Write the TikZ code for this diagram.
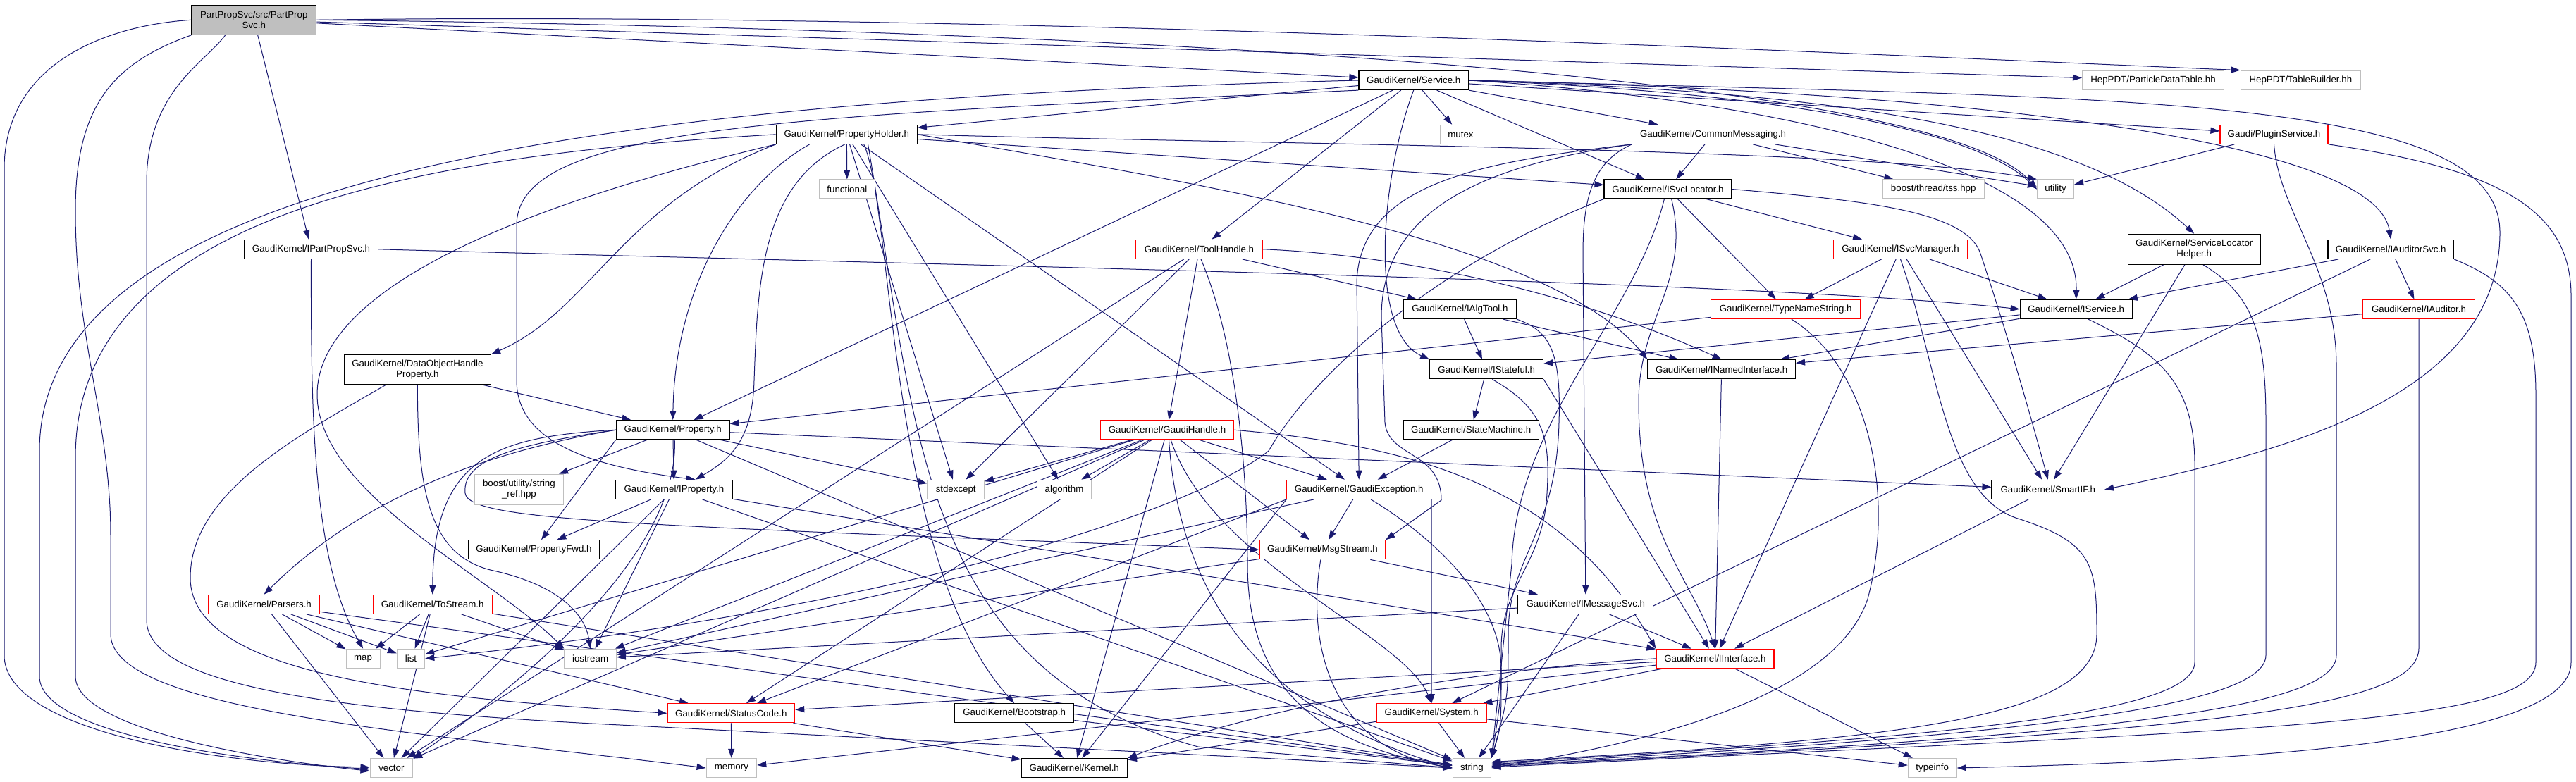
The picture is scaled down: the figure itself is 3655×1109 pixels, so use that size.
\documentclass[tikz,border=0pt]{standalone}
\usepackage{fontspec}
\newfontfamily\doxfont{Liberation Sans}
\usetikzlibrary{arrows.meta}
\definecolor{edgeblue}{HTML}{191970}
\definecolor{boxgray}{HTML}{BFBFBF}
\pgfdeclarelayer{paper}
\pgfdeclarelayer{edges}
\pgfsetlayers{paper,edges,main}

\tikzset{
  file/.style={draw=black, line width=1.2pt, fill=white, minimum height=27pt, inner sep=0pt, align=center, font={\doxfont\fontsize{13.3}{15}\selectfont}},
  sysfile/.style={file, draw=boxgray},
  redfile/.style={file, draw=red},
  rootfile/.style={file, fill=boxgray},
  dep/.style={draw=edgeblue, line width=1pt, -{Triangle[length=13pt,width=9pt]}},
}

\begin{document}
\begin{tikzpicture}[x=1pt,y=1pt]
			%%%%% START %%%%%
			\begin{pgfonlayer}{paper}
			\fill[white] (0,0) rectangle (3655,-1109);
			\end{pgfonlayer}
			\useasboundingbox (0,0) rectangle (3655,-1109);

			\node[rootfile, minimum width=177pt, minimum height=42pt] (root) at (360.3,-28.3) {PartPropSvc/src/PartProp\\Svc.h};
			\node[file, minimum width=189.5pt] (ipps) at (441.5,-353.8) {GaudiKernel/IPartPropSvc.h};
			\node[file, minimum width=155.5pt] (svc) at (2005.7,-114) {GaudiKernel/Service.h};
			\node[sysfile, minimum width=201pt] (pdt) at (3055,-113.7) {HepPDT/ParticleDataTable.hh};
			\node[sysfile, minimum width=170pt] (tb) at (3264.3,-113.7) {HepPDT/TableBuilder.hh};

			\node[file, minimum width=200pt] (ph) at (1201.3,-190.8) {GaudiKernel/PropertyHolder.h};
			\node[sysfile, minimum width=79pt] (functional) at (1201.9,-268.5) {functional};
			\node[sysfile, minimum width=58pt] (mutex) at (2072.5,-190.8) {mutex};
			\node[file, minimum width=229.4pt] (cm) at (2430.5,-190.8) {GaudiKernel/CommonMessaging.h};
			\node[redfile, minimum width=153pt] (plugin) at (3226.5,-190.8) {Gaudi/PluginService.h};

			\node[file, minimum width=181pt] (isl) at (2366.5,-268.5) {GaudiKernel/ISvcLocator.h};
			\node[sysfile, minimum width=144pt] (tss) at (2743.2,-268.5) {boost/thread/tss.hpp};
			\node[sysfile, minimum width=52pt] (utility) at (2916.5,-268.5) {utility};

			\node[redfile, minimum width=180pt] (th) at (1701.5,-353.8) {GaudiKernel/ToolHandle.h};
			\node[redfile, minimum width=190pt] (ism) at (2696.5,-353.8) {GaudiKernel/ISvcManager.h};
			\node[file, minimum width=188pt, minimum height=43pt] (slh) at (3113.2,-353.8) {GaudiKernel/ServiceLocator\\Helper.h};
			\node[file, minimum width=178.5pt] (iasvc) at (3392.2,-353.8) {GaudiKernel/IAuditorSvc.h};

			\node[file, minimum width=160pt] (iat) at (2071.4,-439) {GaudiKernel/IAlgTool.h};
			\node[redfile, minimum width=211.8pt] (tns) at (2533.7,-439) {GaudiKernel/TypeNameString.h};
			\node[file, minimum width=159pt] (isvc) at (2945.7,-438.8) {GaudiKernel/IService.h};
			\node[redfile, minimum width=158.3pt] (iaud) at (3432,-438.8) {GaudiKernel/IAuditor.h};

			\node[file, minimum width=208pt, minimum height=42pt] (dohp) at (592.4,-524.3) {GaudiKernel/DataObjectHandle\\Property.h};
			\node[file, minimum width=160.8pt] (ist) at (2109.2,-524.3) {GaudiKernel/IStateful.h};
			\node[file, minimum width=209.5pt] (ini) at (2442.7,-524.3) {GaudiKernel/INamedInterface.h};

			\node[file, minimum width=160.7pt] (prop) at (954.7,-610.2) {GaudiKernel/Property.h};
			\node[redfile, minimum width=188.3pt] (gh) at (1656,-610.2) {GaudiKernel/GaudiHandle.h};
			\node[file, minimum width=192pt] (sm) at (2087.2,-610.2) {GaudiKernel/StateMachine.h};

			\node[sysfile, minimum width=125.6pt, minimum height=42.7pt] (sref) at (736.4,-694.7) {boost/utility/string\\\_ref.hpp};
			\node[file, minimum width=166.5pt] (iprop) at (956.4,-694.8) {GaudiKernel/IProperty.h};
			\node[sysfile, minimum width=80.4pt] (stdexcept) at (1356.2,-694.8) {stdexcept};
			\node[sysfile, minimum width=77pt] (algorithm) at (1510,-694.8) {algorithm};
			\node[redfile, minimum width=204.8pt] (gex) at (1928.2,-694.8) {GaudiKernel/GaudiException.h};
			\node[file, minimum width=159.5pt] (sif) at (2905.8,-694.8) {GaudiKernel/SmartIF.h};

			\node[file, minimum width=186.6pt] (pfwd) at (757.5,-780.3) {GaudiKernel/PropertyFwd.h};
			\node[redfile, minimum width=178.3pt] (msg) at (1876.4,-780.3) {GaudiKernel/MsgStream.h};

			\node[redfile, minimum width=158pt] (parsers) at (374.6,-857.8) {GaudiKernel/Parsers.h};
			\node[redfile, minimum width=169pt] (tostream) at (613.7,-857.8) {GaudiKernel/ToStream.h};
			\node[file, minimum width=192pt] (imsg) at (2249.8,-857.8) {GaudiKernel/IMessageSvc.h};

			\node[sysfile, minimum width=48pt] (map) at (515.1,-934.8) {map};
			\node[sysfile, minimum width=39.3pt] (list) at (583,-934.8) {list};
			\node[sysfile, minimum width=73.4pt] (iostream) at (837.6,-934.8) {iostream};
			\node[redfile, minimum width=167pt] (iint) at (2433.4,-934.8) {GaudiKernel/IInterface.h};

			\node[redfile, minimum width=180.8pt] (sc) at (1037.3,-1012.3) {GaudiKernel/StatusCode.h};
			\node[file, minimum width=169pt] (boot) at (1439.2,-1012.3) {GaudiKernel/Bootstrap.h};
			\node[redfile, minimum width=156pt] (sys) at (2031.2,-1012.3) {GaudiKernel/System.h};

			\node[sysfile, minimum width=60.5pt] (vector) at (555.4,-1090) {vector};
			\node[sysfile, minimum width=71.6pt] (memory) at (1037.9,-1090) {memory};
			\node[file, minimum width=150.2pt] (kernel) at (1524.3,-1090) {GaudiKernel/Kernel.h};
			\node[sysfile, minimum width=54.6pt] (string) at (2088.4,-1090) {string};
			\node[sysfile, minimum width=68.8pt] (typeinfo) at (2741.7,-1090) {typeinfo};

			\begin{pgfonlayer}{edges}
			% short includes
			\foreach \src/\dst in {root/ipps, root/svc, root/pdt,
				svc/ph, svc/mutex, svc/cm, svc/isl, svc/plugin, svc/th, svc/prop,
				ph/functional, ph/isl, ph/stdexcept, ph/algorithm, ph/gex,
				cm/isl, cm/tss, cm/utility, isl/ism, isl/tns,
				ism/tns, ism/isvc, ism/sif, ism/iint, tns/prop,
				th/gh, th/iat, th/stdexcept, th/vector,
				gh/stdexcept, gh/algorithm, gh/gex, gh/kernel, gh/msg, gh/iostream, gh/vector, gh/list, gh/sc,
				iat/ist, iat/ini, ist/sm, sm/gex, ini/iint, isvc/ist, isvc/ini, iaud/ini,
				iasvc/isvc, iasvc/iaud, iasvc/sys, slh/isvc, slh/sif, plugin/utility,
				dohp/prop, prop/sref, prop/iprop, prop/stdexcept, prop/sif, prop/string,
				iprop/pfwd, iprop/iint, iprop/string, iprop/vector, iprop/iostream,
				parsers/map, parsers/list, parsers/vector, parsers/sc, parsers/string,
				tostream/map, tostream/list, tostream/vector, tostream/iostream, tostream/string,
				gex/msg, gex/iostream, msg/imsg, msg/iostream,
				imsg/iint, imsg/string, imsg/iostream,
				iint/sc, iint/memory, iint/sys, iint/typeinfo,
				sys/string, sys/typeinfo, sys/kernel, sc/memory, sc/kernel,
				boot/kernel, boot/string, sif/iint}
				\draw[dep] (\src) -- (\dst);

			% long way round on the left
			\draw[dep] (root.west) .. controls (150,-36) and (6,-90) .. (6,-240) -- (6,-930) .. controls (6,-1040) and (320,-1086) .. (vector.178);
			\draw[dep] (svc.west) .. controls (900,-140) and (56,-240) .. (56,-640) -- (56,-960) .. controls (56,-1040) and (330,-1080) .. (vector.183);
			\draw[dep] (ph.west) .. controls (600,-220) and (107,-300) .. (107,-650) -- (107,-960) .. controls (107,-1030) and (340,-1075) .. (vector.188);
			\draw[dep] (root.south west) .. controls (160,-90) and (107,-150) .. (107,-300) .. controls (107,-480) and (157,-600) .. (157,-760) -- (157,-900) .. controls (157,-1010) and (600,-1040) .. (memory.west);
			\draw[dep] (root.208) .. controls (290,-90) and (208,-130) .. (208,-260) -- (208,-880) .. controls (208,-975) and (480,-1010) .. (900,-1030) -- (string.west);

			% long way round on the right
			\draw[dep] (svc.east) .. controls (3000,-140) and (3547,-130) .. (3547,-330) .. controls (3547,-560) and (3250,-640) .. (sif.east);
			\draw[dep] (plugin.south east) .. controls (3550,-240) and (3648,-300) .. (3648,-420) -- (3648,-940) .. controls (3648,-1040) and (3300,-1078) .. (typeinfo.east);
			\draw[dep] (iasvc.south east) .. controls (3560,-400) and (3598,-440) .. (3598,-560) -- (3598,-940) .. controls (3598,-1030) and (3200,-1035) .. (string.2);
			\draw[dep] (iaud.south) -- (3432,-920) .. controls (3432,-1010) and (3100,-1040) .. (string.5);
			\draw[dep] (plugin.south) .. controls (3233,-300) and (3315,-380) .. (3315,-520) -- (3315,-930) .. controls (3315,-1005) and (3000,-1045) .. (string.8);
			\draw[dep] (slh.-60) .. controls (3200,-420) and (3215,-480) .. (3215,-600) -- (3215,-930) .. controls (3215,-1000) and (2900,-1045) .. (string.11);
			\draw[dep] (isvc.-40) .. controls (3060,-500) and (3114,-540) .. (3114,-660) -- (3114,-940) .. controls (3114,-1010) and (2800,-1045) .. (string.14);
			\draw[dep] (ism.south) .. controls (2750,-520) and (2760,-700) .. (2860,-735) .. controls (2970,-770) and (2975,-800) .. (2975,-900) .. controls (2975,-1020) and (2700,-1050) .. (string.17);

			% curved includes near the top
			\draw[dep] (root.east) .. controls (1500,-40) and (2750,-100) .. (utility.west);
			\draw[dep] (root.east) .. controls (1400,-15) and (2700,-80) .. (tb.north west);
			\draw[dep] (ipps.east) .. controls (1500,-380) and (2500,-400) .. (isvc.west);
			\draw[dep] (ipps.south) .. controls (441,-600) and (445,-800) .. (map.north);
			\draw[dep] (svc.east) .. controls (2500,-130) and (2800,-180) .. (utility.west);
			\draw[dep] (svc.east) .. controls (2800,-130) and (3370,-200) .. (iasvc.north);
			\draw[dep] (svc.east) .. controls (2600,-130) and (2950,-180) .. (slh.north);
			\draw[dep] (svc.east) .. controls (2500,-140) and (2950,-230) .. (isvc.north);
			\draw[dep] (svc.south) .. controls (1960,-250) and (1940,-470) .. (ist.north west);
			\draw[dep] (svc.south west) .. controls (1100,-165) and (733,-180) .. (733,-320) -- (733,-540) .. controls (733,-620) and (820,-660) .. (iprop.25);
			\draw[dep] (ph.south west) .. controls (880,-290) and (840,-440) .. (dohp.north east);
			\draw[dep] (ph.-165) .. controls (1050,-260) and (958,-400) .. (prop.north);
			\draw[dep] (ph.-100) .. controls (1080,-260) and (1075,-400) .. (1070,-540) .. controls (1068,-620) and (1040,-650) .. (iprop.25);
			\draw[dep] (ph.east) .. controls (1700,-260) and (2200,-340) .. (ini.north west);
			\draw[dep] (ph.east) .. controls (1800,-205) and (2650,-210) .. (utility.north west);
			\draw[dep] (ph.south west) .. controls (700,-300) and (450,-420) .. (450,-560) .. controls (450,-700) and (700,-820) .. (iostream.north west);
			\draw[dep] (ph.-25) .. controls (1300,-600) and (1300,-950) .. (1700,-1060) -- (string.west);
			\draw[dep] (ph.-30) .. controls (1268,-300) and (1260,-800) .. (boot.north);
			\draw[dep] (cm.south west) .. controls (2260,-230) and (2246,-280) .. (2246,-360) -- (imsg.north);
			\draw[dep] (cm.south west) .. controls (2100,-230) and (1930,-260) .. (1925,-400) -- (gex.north);
			\draw[dep] (cm.south west) .. controls (2100,-235) and (1960,-300) .. (1960,-450) -- (1965,-600) .. controls (1970,-650) and (2045,-640) .. (2045,-710) -- (msg.north east);
			\draw[dep] (isl.east) .. controls (2650,-285) and (2790,-300) .. (2810,-360) .. controls (2840,-450) and (2870,-550) .. (sif.north);
			\draw[dep] (isl.-70) .. controls (2400,-400) and (2325,-450) .. (2325,-570) .. controls (2325,-760) and (2400,-820) .. (iint.north);
			\draw[dep] (isl.-110) .. controls (2320,-450) and (2150,-600) .. (2145,-800) -- (string.north east);
			\draw[dep] (isl.south west) .. controls (2050,-370) and (1870,-520) .. (1800,-640) .. controls (1700,-720) and (1300,-860) .. (list.east);
			\draw[dep] (tns.-60) .. controls (2650,-520) and (2690,-700) .. (2650,-850) .. controls (2600,-1000) and (2300,-1060) .. (string.east);
			\draw[dep] (th.east) .. controls (1950,-360) and (2200,-400) .. (ini.north);
			\draw[dep] (th.-80) .. controls (1760,-500) and (1770,-700) .. (1770,-800) .. controls (1770,-1000) and (1900,-1060) .. (string.west);

			% curved includes in the middle
			\draw[dep] (iat.south east) .. controls (2200,-470) and (2215,-500) .. (2212,-600) .. controls (2208,-760) and (2140,-790) .. (2140,-900) .. controls (2140,-990) .. (string.north east);
			\draw[dep] (ist.-60) .. controls (2190,-580) and (2200,-620) .. (2195,-700) .. controls (2190,-800) and (2130,-830) .. (2130,-920) .. controls (2130,-990) .. (string.north east);
			\draw[dep] (ist.south east) -- (iint);
			\draw[dep] (gh.-70) .. controls (1720,-800) and (1990,-900) .. (sys.north);
			\draw[dep] (gh.east) .. controls (2014,-633) and (2218,-692) .. (iint.north west);
			\draw[dep] (gh.-80) .. controls (1670,-800) and (1750,-1000) .. (string.west);
			\draw[dep] (dohp.south) .. controls (592,-700) and (610,-790) .. (700,-810) .. controls (790,-830) and (830,-870) .. (iostream.north);
			\draw[dep] (dohp.-154) .. controls (420,-620) and (270,-700) .. (270,-820) .. controls (270,-960) and (600,-990) .. (sc.west);
			\draw[dep] (prop.south west) -- (pfwd);
			\draw[dep] (prop.west) .. controls (700,-640) and (520,-700) .. (parsers.north);
			\draw[dep] (prop.west) .. controls (700,-620) and (615,-650) .. (tostream.north);
			\draw[dep] (prop.-80) .. controls (965,-800) and (700,-1000) .. (vector.north east);
			\draw[dep] (prop.west) .. controls (740,-630) and (655,-650) .. (660,-700) .. controls (665,-740) and (900,-745) .. (msg.west);
			\draw[dep] (gex.south west) -- (sc);
			\draw[dep] (gex.south west) -- (kernel);
			\draw[dep] (gex.south east) -- (sys.north);
			\draw[dep] (gex.-40) .. controls (2030,-760) and (2130,-850) .. (2130,-950) .. controls (2130,-1030) .. (string.north east);
			\draw[dep] (msg.-100) .. controls (1855,-900) and (1880,-1060) .. (string.west);
			\draw[dep] (iint.west) .. controls (2100,-950) and (1800,-1000) .. (kernel.north east);
			\end{pgfonlayer}
			%%%%% END %%%%%
\end{tikzpicture}
\end{document}
